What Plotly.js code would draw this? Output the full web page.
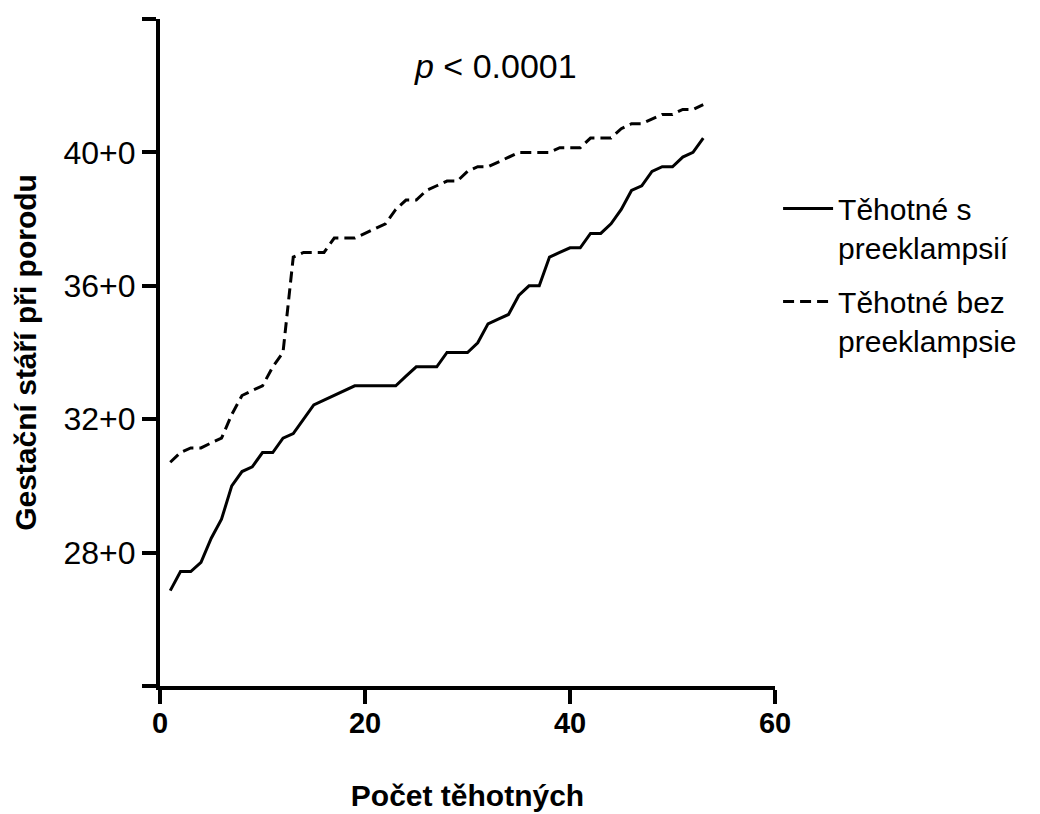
<!DOCTYPE html>
<html>
<head>
<meta charset="utf-8">
<script src="https://cdn.plot.ly/plotly-3.0.1.min.js"></script>
<style>
  html, body { margin: 0; padding: 0; background: #fff; }
  #chart { width: 1040px; height: 814px; }
</style>
</head>
<body>
<div id="chart"></div>
<script>
// Pregnancy index (x)
const pregnancyIndex = Array.from({length: 53}, (_, i) => i + 1);

// Gestational age at delivery (weeks, decimal) – with preeclampsia
const withPreeclampsia = [
  26.86, 27.43, 27.43, 27.71, 28.43, 29.00, 30.00, 30.43, 30.57, 31.00,
  31.00, 31.43, 31.57, 32.00, 32.43, 32.57, 32.71, 32.86, 33.00, 33.00,
  33.00, 33.00, 33.00, 33.29, 33.57, 33.57, 33.57, 34.00, 34.00, 34.00,
  34.29, 34.86, 35.00, 35.14, 35.71, 36.00, 36.00, 36.86, 37.00, 37.14,
  37.14, 37.57, 37.57, 37.86, 38.29, 38.86, 39.00, 39.43, 39.57, 39.57,
  39.86, 40.00, 40.43
];

// Gestational age at delivery (weeks, decimal) – without preeclampsia
const withoutPreeclampsia = [
  30.71, 31.00, 31.14, 31.14, 31.29, 31.43, 32.14, 32.71, 32.86, 33.00,
  33.57, 34.00, 36.86, 37.00, 37.00, 37.00, 37.43, 37.43, 37.43, 37.57,
  37.71, 37.86, 38.29, 38.57, 38.57, 38.86, 39.00, 39.14, 39.14, 39.43,
  39.57, 39.57, 39.71, 39.86, 40.00, 40.00, 40.00, 40.00, 40.14, 40.14,
  40.14, 40.43, 40.43, 40.43, 40.71, 40.86, 40.86, 41.00, 41.14, 41.14,
  41.29, 41.29, 41.43
];

const seriesNames = ['Těhotné s<br>preeklampsií', 'Těhotné bez<br>preeklampsie'];
const yTickVals = [24, 28, 32, 36, 40, 44];
const yTickText = ['', '28+0', '32+0', '36+0', '40+0', ''];
const xTickVals = [0, 20, 40, 60];

const traces = [
  {
    x: pregnancyIndex, y: withPreeclampsia, name: seriesNames[0],
    legendgroup: 'a',
    type: 'scatter', mode: 'lines',
    line: {color: '#000', width: 3, shape: 'linear'}
  },
  {
    x: pregnancyIndex, y: withoutPreeclampsia, name: seriesNames[1],
    legendgroup: 'b',
    type: 'scatter', mode: 'lines',
    line: {color: '#000', width: 3, dash: '11px,6px'}
  }
];

const layout = {
  width: 1040, height: 814,
  paper_bgcolor: '#fff', plot_bgcolor: '#fff',
  margin: {l: 160, r: 265, t: 19, b: 128, pad: 0},
  font: {family: 'Liberation Sans, Arial, sans-serif', color: '#000', size: 28},
  showlegend: true,
  legend: {
    x: 1.005, xanchor: 'left', y: 0.755, yanchor: 'top',
    valign: 'top', traceorder: 'grouped',
    itemwidth: 50,
    font: {size: 30, family: 'Liberation Sans, Arial, sans-serif', color: '#000'},
    bgcolor: 'rgba(0,0,0,0)', borderwidth: 0,
    tracegroupgap: 12
  },
  xaxis: {
    range: [0, 60], tickvals: xTickVals,
    showgrid: false, zeroline: false,
    showline: true, linecolor: '#000', linewidth: 4,
    ticks: 'outside', ticklen: 14, tickwidth: 4, tickcolor: '#000',
    ticklabelstandoff: -6,
    tickfont: {family: 'Liberation Sans Narrow, Arial Narrow, Liberation Sans, Arial', size: 29, weight: 'bold', color: '#000'},
    title: {text: '<b>Počet těhotných</b>', font: {size: 30, family: 'Liberation Sans, Arial, sans-serif'}, standoff: 48},
    fixedrange: true
  },
  yaxis: {
    range: [24, 44], tickvals: yTickVals, ticktext: yTickText,
    showgrid: false, zeroline: false,
    showline: true, linecolor: '#000', linewidth: 4,
    ticks: 'outside', ticklen: 14, tickwidth: 4, tickcolor: '#000',
    tickfont: {family: 'Liberation Sans, Arial, sans-serif', size: 32, color: '#000'},
    title: {text: '<b>Gestační stáří při porodu</b>', font: {size: 30, family: 'Liberation Sans, Arial, sans-serif'}, standoff: 19},
    fixedrange: true
  },
  annotations: [
    {
      xref: 'paper', yref: 'paper', x: 0.545, y: 0.93,
      xanchor: 'center', yanchor: 'middle', showarrow: false,
      text: '<i>p</i> < 0.0001',
      font: {size: 34, family: 'Liberation Sans, Arial, sans-serif', color: '#000'}
    }
  ]
};

Plotly.newPlot('chart', traces, layout, {displayModeBar: false, staticPlot: true});
</script>
</body>
</html>
